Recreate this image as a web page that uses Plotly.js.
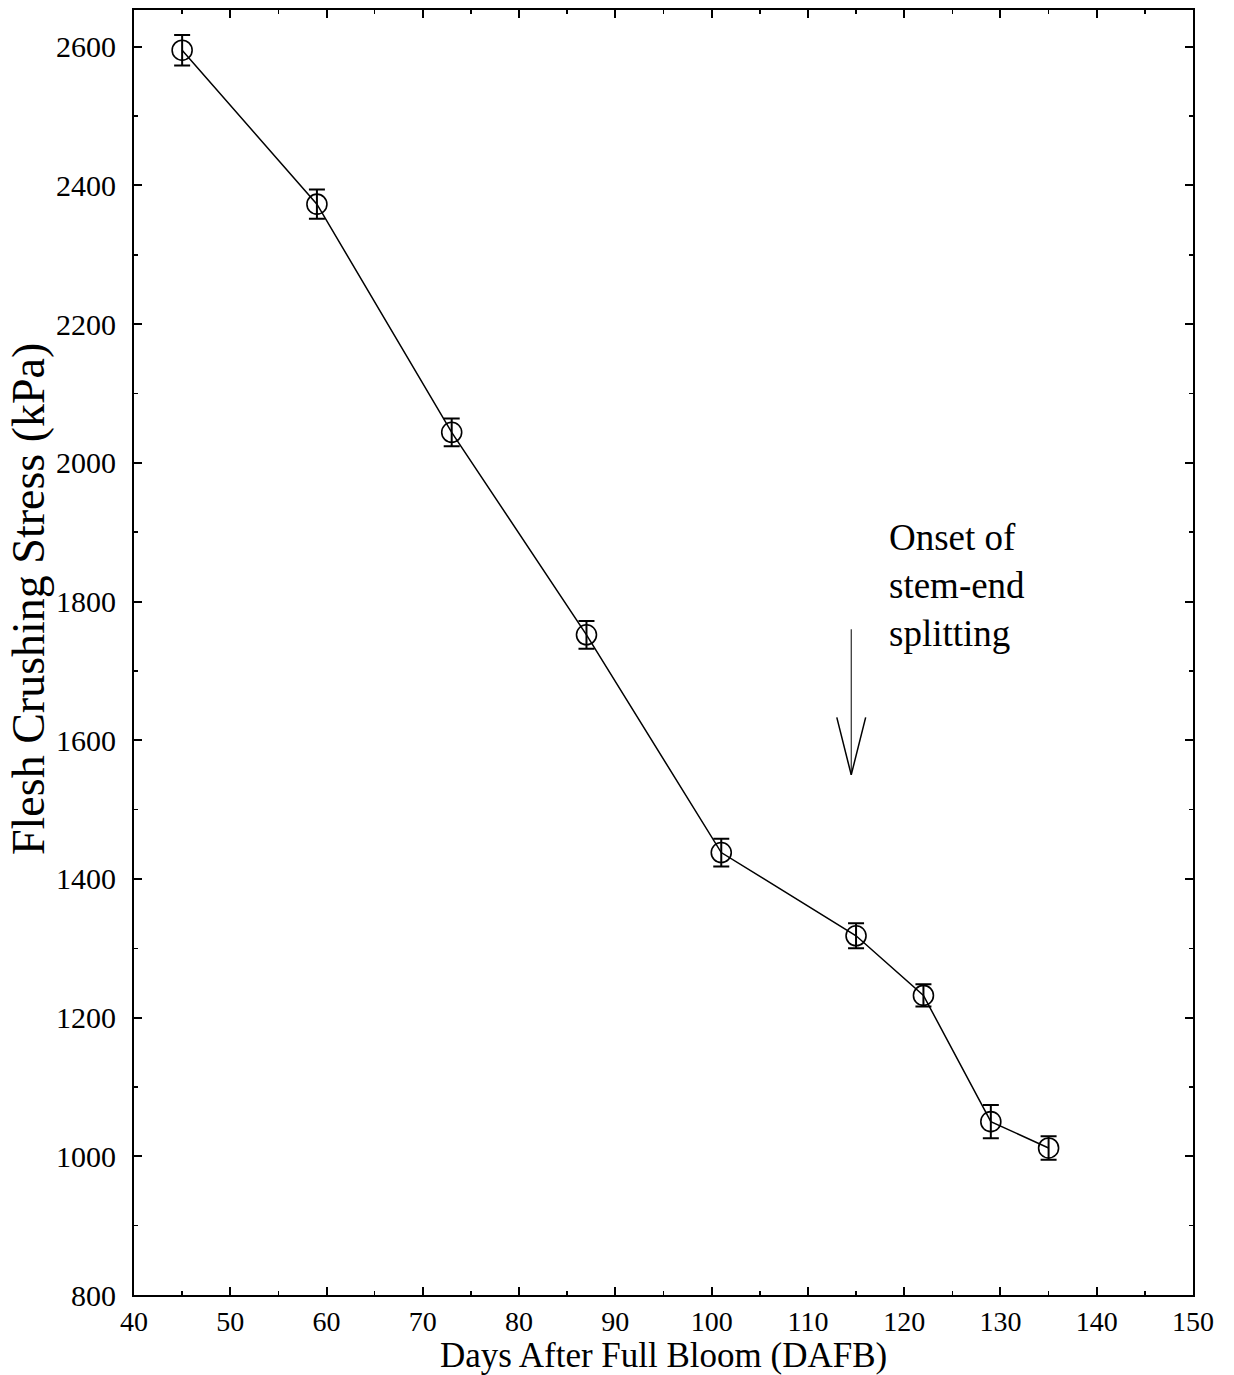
<!DOCTYPE html>
<html>
<head>
<meta charset="utf-8">
<script src="https://cdn.plot.ly/plotly-3.0.1.min.js"></script>
<style>
  html, body { margin: 0; padding: 0; background: #fff; }
  #chart { width: 1234px; height: 1375px; }
</style>
</head>
<body>
<div id="chart"></div>
<script>
// Data
const dafb = [45, 59, 73, 87, 101, 115, 122, 129, 135];
const crushingStress = [2595, 2373, 2044, 1752, 1438, 1318, 1232, 1050, 1012];
const stressError = [22, 21, 20, 20, 20, 18, 16, 24, 17];

const xTickVals = [40, 50, 60, 70, 80, 90, 100, 110, 120, 130, 140, 150];
const yTickVals = [800, 1000, 1200, 1400, 1600, 1800, 2000, 2200, 2400, 2600];

const xTitle = "Days After Full Bloom (DAFB)";
const yTitle = "Flesh Crushing Stress (kPa)";
const annotationLines = ["Onset of", "stem-end", "splitting"];
// Arrow marking onset of splitting (data coordinates)
const arrowX = 114.5;
const arrowTailY = 1760;
const arrowTipY = 1550;
const arrowWingY = 1633;
const arrowWingDX = 1.5;

const serif = "Liberation Serif, Times New Roman, serif";

const trace = {
  x: dafb,
  y: crushingStress,
  type: "scatter",
  mode: "lines+markers",
  line: { color: "#000", width: 1.5 },
  marker: { symbol: "circle-open", size: 20, color: "#000", line: { width: 1.6, color: "#000" } },
  error_y: { type: "data", array: stressError, visible: true, color: "#000", thickness: 2, width: 8 },
  showlegend: false,
  hoverinfo: "x+y"
};

const layout = {
  width: 1234,
  height: 1375,
  margin: { l: 134, r: 41, t: 10, b: 80 },
  paper_bgcolor: "#fff",
  plot_bgcolor: "#fff",
  font: { family: serif, color: "#000", size: 28 },
  xaxis: {
    range: [40, 150],
    tickvals: xTickVals,
    ticks: "inside",
    ticklen: 8,
    tickwidth: 2,
    tickcolor: "#000",
    minor: { dtick: 5, ticks: "inside", ticklen: 4, tickwidth: 1.5, tickcolor: "#000" },
    showline: true,
    linecolor: "#000",
    linewidth: 2,
    mirror: "allticks",
    showgrid: false,
    zeroline: false,
    tickfont: { family: serif, size: 28, color: "#000" },
    ticklabelstandoff: 0,
    fixedrange: true
  },
  yaxis: {
    range: [800, 2653],
    tickvals: yTickVals,
    ticks: "inside",
    ticklen: 8,
    tickwidth: 2,
    tickcolor: "#000",
    minor: { dtick: 100, ticks: "inside", ticklen: 4, tickwidth: 1.5, tickcolor: "#000" },
    showline: true,
    linecolor: "#000",
    linewidth: 2,
    mirror: "allticks",
    showgrid: false,
    zeroline: false,
    tickfont: { family: serif, size: 30, color: "#000" },
    ticklabelstandoff: 10,
    fixedrange: true
  },
  annotations: [
    {
      x: 0.5, y: 0, xref: "paper", yref: "paper",
      xanchor: "center", yanchor: "middle", yshift: -60,
      text: xTitle, showarrow: false,
      font: { family: serif, size: 35, color: "#000" }
    },
    {
      x: 0, y: 0.5416, xref: "paper", yref: "paper",
      xanchor: "center", yanchor: "middle", xshift: -106,
      textangle: -90,
      text: yTitle, showarrow: false,
      font: { family: serif, size: 46, color: "#000" }
    },
    {
      x: 0.711, y: 0.5525, xref: "paper", yref: "paper",
      xanchor: "left", yanchor: "middle", align: "left",
      text: annotationLines.join("<br>"),
      showarrow: false,
      font: { family: serif, size: 37, color: "#000" }
    }
  ],
  shapes: [
    {
      type: "line", xref: "x", yref: "y",
      x0: arrowX, x1: arrowX, y0: arrowTailY, y1: arrowTipY,
      line: { color: "#000", width: 1 }
    },
    {
      type: "path", xref: "x", yref: "y",
      path: "M " + (arrowX - arrowWingDX) + "," + arrowWingY + " L " + arrowX + "," + arrowTipY + " L " + (arrowX + arrowWingDX) + "," + arrowWingY,
      line: { color: "#000", width: 1.5 }
    }
  ]
};

Plotly.newPlot("chart", [trace], layout, { displayModeBar: false, staticPlot: true });
</script>
</body>
</html>
